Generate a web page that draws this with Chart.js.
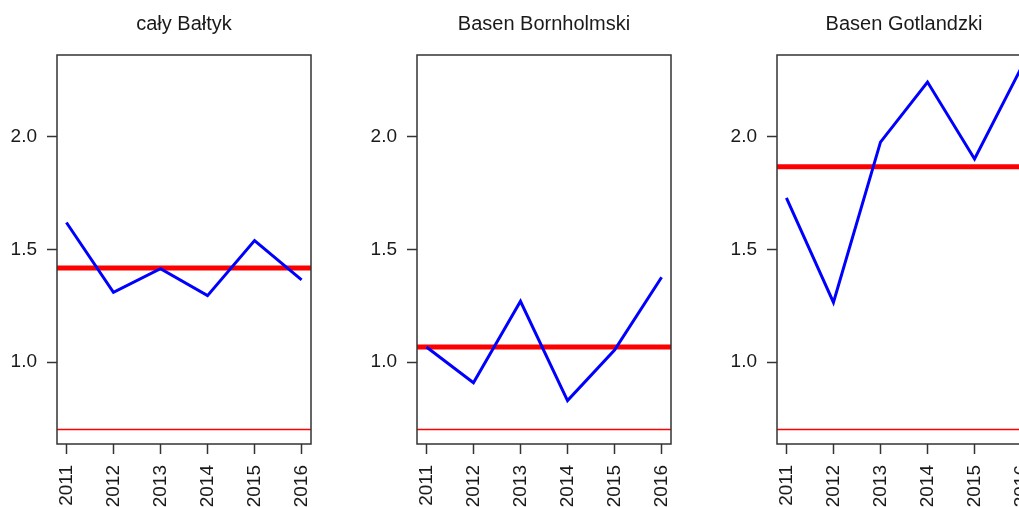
<!DOCTYPE html>
<html>
<head>
<meta charset="utf-8">
<script src="https://cdn.jsdelivr.net/npm/chart.js@4"></script>
<style>
  html, body { margin: 0; padding: 0; background: #fff; overflow: hidden; }
  #wrap { position: relative; width: 1019px; height: 507px; overflow: hidden; }
  .panel { position: absolute; top: 0; width: 360px; height: 507px; }
</style>
</head>
<body>
<div id="wrap">
  <div class="panel" style="left:0px"><canvas id="c0" width="360" height="507"></canvas></div>
  <div class="panel" style="left:360px"><canvas id="c1" width="360" height="507"></canvas></div>
  <div class="panel" style="left:720px"><canvas id="c2" width="360" height="507"></canvas></div>
</div>
<script>
// lata (oś X) i ticki osi Y
const years = [2011, 2012, 2013, 2014, 2015, 2016];
const yTicks = [1.0, 1.5, 2.0];

// tytuły paneli
const titles = ['cały Bałtyk', 'Basen Bornholmski', 'Basen Gotlandzki'];

// wartości wskaźnika (niebieska linia)
const calyBaltyk = [1.62, 1.31, 1.415, 1.295, 1.54, 1.365];
const basenBornholmski = [1.067, 0.908, 1.27, 0.829, 1.053, 1.377];
const basenGotlandzki = [1.729, 1.265, 1.977, 2.244, 1.902, 2.31];

// gruba czerwona linia (średnia / poziom odniesienia) per panel
const refLevels = [1.418, 1.067, 1.868];
// cienka czerwona linia - próg
const threshold = 0.7;

// zakres osi jak w R (ylim 0.7-2.3, +4% z każdej strony)
const Y_LIM = [0.7, 2.3];
const X_LIM = [years[0], years[years.length - 1]];

const series = [calyBaltyk, basenBornholmski, basenGotlandzki];

function ext(lim) {
  const d = (lim[1] - lim[0]) * 0.04;
  return [lim[0] - d, lim[1] + d];
}
const [xMin, xMax] = ext(X_LIM);
const [yMin, yMax] = ext(Y_LIM);

const TEXT = '#1a1a1a';
const FRAME = '#333333';
const FONT = { family: '"Liberation Sans", Arial, sans-serif', size: 19 };

// ramka dookoła obszaru wykresu (jak box() w R)
const boxPlugin = {
  id: 'boxPlugin',
  afterDraw(chart) {
    const { ctx, chartArea: a } = chart;
    ctx.save();
    ctx.strokeStyle = FRAME;
    ctx.lineWidth = 1.5;
    ctx.strokeRect(a.left, a.top, a.right - a.left, a.bottom - a.top);
    ctx.restore();
  }
};

function hLine(y, width) {
  return {
    data: [{ x: xMin, y: y }, { x: xMax, y: y }],
    borderColor: '#FF0000',
    borderWidth: width,
    pointRadius: 0,
    tension: 0,
    fill: false
  };
}

series.forEach((values, i) => {
  new Chart(document.getElementById('c' + i), {
    type: 'line',
    data: {
      datasets: [
        hLine(threshold, 1.5),
        {
          data: years.map((yr, k) => ({ x: yr, y: values[k] })),
          borderColor: '#0000FF',
          borderWidth: 3,
          pointRadius: 0,
          tension: 0,
          fill: false
        },
        hLine(refLevels[i], 5)
      ]
    },
    options: {
      responsive: false,
      animation: false,
      events: [],
      layout: { padding: { left: 0, right: 49, top: 0, bottom: 0 } },
      plugins: {
        legend: { display: false },
        tooltip: { enabled: false },
        title: {
          display: true,
          text: titles[i],
          fullSize: false,
          color: TEXT,
          font: { ...FONT, size: 20, weight: 'normal', lineHeight: 1.2 },
          padding: { top: 12, bottom: 19 }
        }
      },
      scales: {
        x: {
          type: 'linear',
          min: xMin,
          max: xMax,
          afterBuildTicks: s => { s.ticks = years.map(v => ({ value: v })); },
          afterFit: s => { s.height = 63; },
          border: { display: false },
          grid: { drawOnChartArea: false, drawTicks: true, tickLength: 10, tickColor: FRAME, tickWidth: 1.5 },
          ticks: {
            autoSkip: false,
            minRotation: 90,
            maxRotation: 90,
            padding: 11,
            color: TEXT,
            font: FONT,
            callback: v => String(v)
          }
        },
        y: {
          type: 'linear',
          min: yMin,
          max: yMax,
          afterBuildTicks: s => { s.ticks = yTicks.map(v => ({ value: v })); },
          afterFit: s => { s.width = 57; },
          border: { display: false },
          grid: { drawOnChartArea: false, drawTicks: true, tickLength: 10, tickColor: FRAME, tickWidth: 1.5 },
          ticks: {
            padding: 10,
            color: TEXT,
            font: FONT,
            callback: v => v.toFixed(1)
          }
        }
      }
    },
    plugins: [boxPlugin]
  });
});
</script>
</body>
</html>
